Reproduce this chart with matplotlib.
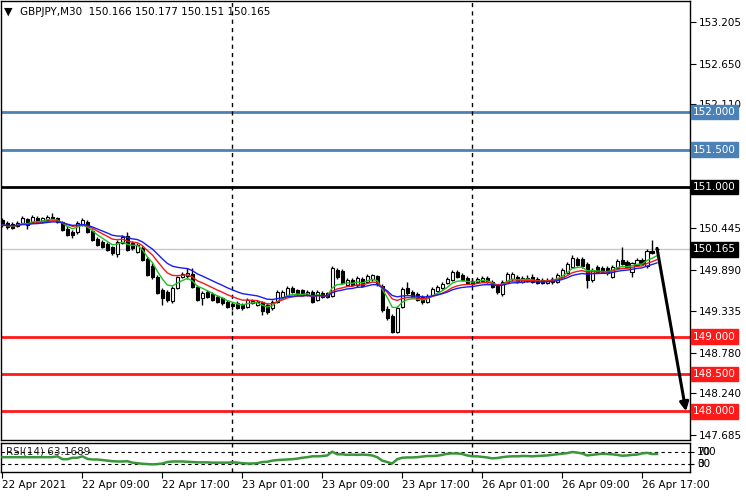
import matplotlib
matplotlib.use("Agg")
import matplotlib.pyplot as plt
import numpy as np
import pandas as pd
from matplotlib.transforms import blended_transform_factory, offset_copy

# ---------------- data ----------------
title_text = "GBPJPY,M30  150.166 150.177 150.151 150.165"

opens = [150.56,150.52,150.50,150.48,150.52,150.57,150.53,150.58,150.53,150.56,
         150.60,150.58,150.53,150.44,150.40,150.40,150.49,150.53,150.41,150.30,
         150.26,150.24,150.20,150.10,150.25,150.34,150.25,150.13,150.18,150.04,
         149.94,149.80,149.62,149.60,149.47,149.65,149.80,149.81,149.84,149.66,
         149.51,149.60,149.57,149.53,149.51,149.46,149.43,149.45,149.42,149.39,
         149.45,149.42,149.46,149.42,149.38,149.46,149.53,149.55,149.65,149.62,
         149.62,149.57,149.60,149.49,149.58,149.58,149.54,149.89,149.88,149.69,
         149.76,149.69,149.77,149.73,149.77,149.81,149.68,149.37,149.27,149.06,
         149.39,149.65,149.60,149.57,149.53,149.46,149.55,149.61,149.65,149.72,
         149.76,149.86,149.82,149.78,149.74,149.73,149.74,149.78,149.73,149.68,
         149.57,149.73,149.77,149.80,149.73,149.74,149.80,149.77,149.76,149.72,
         149.73,149.73,149.80,149.85,149.93,150.04,150.04,149.97,149.76,149.93,
         149.92,149.92,149.80,149.92,150.02,150.00,149.86,149.96,150.02,149.94,
         150.14,150.166]

closes = [150.49,150.46,150.45,150.52,150.58,150.49,150.60,150.53,150.58,150.60,
          150.58,150.53,150.42,150.36,150.36,150.52,150.56,150.40,150.29,150.22,
          150.20,150.16,150.12,150.26,150.33,150.16,150.18,150.22,150.02,149.82,
          149.80,149.58,149.51,149.49,149.65,149.80,149.84,149.85,149.66,149.49,
          149.58,149.53,149.49,149.46,149.45,149.39,149.41,149.38,149.38,149.49,
          149.47,149.46,149.34,149.33,149.46,149.60,149.60,149.65,149.60,149.58,
          149.55,149.60,149.46,149.60,149.53,149.53,149.92,149.80,149.72,149.76,
          149.69,149.78,149.68,149.81,149.82,149.70,149.35,149.25,149.06,149.38,
          149.64,149.58,149.53,149.49,149.46,149.54,149.64,149.66,149.70,149.77,
          149.86,149.80,149.76,149.72,149.70,149.77,149.78,149.73,149.66,149.60,
          149.73,149.84,149.84,149.73,149.78,149.78,149.73,149.72,149.72,149.76,
          149.77,149.82,149.89,149.97,150.05,149.96,149.94,149.76,149.89,149.86,
          149.86,149.85,149.93,150.01,149.97,149.93,149.98,150.02,149.97,150.14,
          150.12,150.165]

highs = [150.58,150.54,150.53,150.54,150.61,150.58,150.62,150.61,150.60,150.62,
         150.65,150.60,150.54,150.48,150.42,150.54,150.58,150.56,150.44,150.33,
         150.29,150.26,150.21,150.29,150.36,150.40,150.28,150.25,150.21,150.06,
         149.98,149.82,149.65,149.62,149.68,149.81,149.86,149.92,149.92,149.69,
         149.61,149.62,149.60,149.55,149.53,149.49,149.46,149.47,149.45,149.51,
         149.50,149.49,149.47,149.45,149.49,149.62,149.62,149.68,149.68,149.64,
         149.64,149.62,149.62,149.62,149.61,149.60,149.94,149.92,149.90,149.78,
         149.78,149.81,149.80,149.84,149.84,149.82,149.70,149.41,149.30,149.41,
         149.66,149.73,149.62,149.60,149.55,149.57,149.66,149.69,149.73,149.80,
         149.89,149.89,149.85,149.81,149.77,149.80,149.81,149.81,149.76,149.70,
         149.76,149.86,149.86,149.82,149.81,149.82,149.84,149.80,149.78,149.78,
         149.80,149.85,149.92,150.00,150.09,150.06,150.06,150.00,149.92,149.96,
         149.94,149.94,149.96,150.04,150.20,150.02,150.00,150.05,150.05,150.17,
         150.29,150.177]

lows = [150.46,150.44,150.44,150.46,150.50,150.44,150.52,150.52,150.52,150.54,
        150.56,150.52,150.41,150.34,150.32,150.37,150.48,150.38,150.28,150.21,
        150.18,150.14,150.09,150.06,150.24,150.14,150.16,150.12,150.01,149.81,
        149.77,149.57,149.42,149.46,149.45,149.64,149.78,149.77,149.65,149.47,
        149.42,149.51,149.47,149.45,149.42,149.38,149.35,149.37,149.35,149.38,
        149.43,149.41,149.29,149.30,149.35,149.45,149.51,149.54,149.58,149.55,
        149.54,149.54,149.45,149.47,149.51,149.51,149.53,149.77,149.70,149.68,
        149.68,149.66,149.66,149.72,149.74,149.68,149.33,149.22,149.05,149.05,
        149.38,149.55,149.51,149.47,149.43,149.45,149.54,149.60,149.64,149.70,
        149.74,149.78,149.74,149.70,149.68,149.72,149.73,149.72,149.65,149.57,
        149.54,149.72,149.74,149.72,149.72,149.73,149.72,149.70,149.70,149.70,
        149.70,149.72,149.78,149.84,149.92,149.94,149.92,149.65,149.73,149.85,
        149.85,149.82,149.78,149.90,149.96,149.92,149.80,149.94,149.96,149.92,
        150.10,150.151]

rsi_values = [52,52,52,52,52,52,52,52,52,52,
              52,55,45,45,50,50,55,46,44,44,
              42,40,38,37,37,38,33,31,29,28,
              27,28,30,35,37,37,37,36,35,34,
              34,34,33,33,33,33,34,33,31,30,
              30,31,35,36,40,42,43,44,45,47,
              50,52,55,55,56,58,71,62,62,60,
              61,60,61,60,58,52,40,35,30,45,
              50,51,51,52,54,56,56,57,60,64,
              65,65,63,58,55,55,53,51,48,49,
              52,54,55,55,56,56,55,56,57,58,
              60,62,64,66,70,68,65,58,60,62,
              64,63,62,60,57,58,60,61,65,67,
              63,63.17]
rsi_label = "RSI(14) 63.1689"
rsi_levels = [70, 30]

time_labels = ["22 Apr 2021", "22 Apr 09:00", "22 Apr 17:00", "23 Apr 01:00",
               "23 Apr 09:00", "23 Apr 17:00", "26 Apr 01:00", "26 Apr 09:00",
               "26 Apr 17:00"]
time_label_bars = [0, 16, 32, 48, 64, 80, 96, 112, 128]
day_separator_bars = [46, 94]

price_ticks = [153.205, 152.650, 152.110, 150.445, 149.890, 149.335,
               148.780, 148.240, 147.685]
blue_levels = [152.000, 151.500]
black_levels = [151.000]
red_levels = [149.000, 148.500, 148.000]
current_price = 150.165

ma_spans = {"fast": 6, "mid": 11, "slow": 17}

arrow_start = (131.0, 150.18)
arrow_end = (136.8, 148.00)

# ---------------- figure ----------------
W, H = 746, 496
fig = plt.figure(figsize=(W / 100, H / 100), dpi=100)
fig.patch.set_facecolor("white")
plt.rcParams["font.family"] = ["DejaVu Sans"]
FS = 7.5


def fx(px):
    return px / W


def fy(py):
    return 1 - py / H


ax = fig.add_axes([fx(0.5), fy(440), fx(690) - fx(0.5), fy(1) - fy(440)])
rax = fig.add_axes([fx(0.5), fy(472), fx(690) - fx(0.5), fy(443) - fy(472)])

xlim = (-0.4, 137.6)
for a in (ax, rax):
    a.set_xlim(*xlim)
    a.set_facecolor("white")
    for s in a.spines.values():
        s.set_color("black")
        s.set_linewidth(1.0)

ax.set_ylim(147.617, 153.486)
rax.set_ylim(0.44, 101.3)

O = np.array(opens)
C = np.array(closes)
Hh = np.array(highs)
L = np.array(lows)
idx = np.arange(len(C))

# horizontal levels
for lv in blue_levels:
    ax.axhline(lv, color="#4a82b8", lw=2, zorder=2)
for lv in black_levels:
    ax.axhline(lv, color="black", lw=2, zorder=2)
for lv in red_levels:
    ax.axhline(lv, color="#ff1a1a", lw=2, zorder=2)
ax.axhline(current_price, color="#c8c8c8", lw=1, zorder=1.5)

# day separators
for b in day_separator_bars:
    ax.axvline(b, color="black", lw=1, ls=(0, (3, 3)), zorder=2.2)
    rax.axvline(b, color="black", lw=1, ls=(0, (3, 3)), zorder=2.2)

# candles
ax.vlines(idx, L, Hh, color="black", lw=1, zorder=3)
bull = C >= O
body_bottom = np.minimum(O, C)
body_h = np.abs(C - O)
ax.bar(idx, body_h, bottom=body_bottom, width=0.62,
       color=np.where(bull, "white", "black"), edgecolor="black",
       linewidth=0.8, zorder=4)

# moving averages
cs = pd.Series(C)
ma_colors = {"fast": "#1fbf1f", "mid": "#ee1c1c", "slow": "#1c1cee"}
for k, span in ma_spans.items():
    ma = cs.ewm(span=span, adjust=False).mean()
    ax.plot(idx, ma, color=ma_colors[k], lw=1, zorder=5)

# arrow
ax.annotate("", xy=arrow_end, xytext=arrow_start,
            arrowprops=dict(arrowstyle="-|>", color="black", lw=2.2,
                            mutation_scale=13, shrinkA=0, shrinkB=0),
            zorder=6)

# right price scale
ax.yaxis.tick_right()
ax.set_yticks(price_ticks)
ax.set_yticklabels([f"{t:.3f}" for t in price_ticks])
ax.tick_params(axis="y", direction="out", length=4, width=0.8, pad=2,
               labelsize=FS, colors="black")
ax.tick_params(axis="x", bottom=False, labelbottom=False)

tr = blended_transform_factory(ax.transAxes, ax.transData)
tr = offset_copy(tr, fig=fig, x=3.0, y=0, units="dots")


def level_label(val, fc):
    ax.text(1.0, val, f"{val:.3f}", transform=tr, ha="left", va="center",
            color="white", fontsize=FS, clip_on=False, zorder=10,
            bbox=dict(boxstyle="square,pad=0.22", fc=fc, ec=fc))


for lv in blue_levels:
    level_label(lv, "#4a82b8")
for lv in black_levels:
    level_label(lv, "black")
for lv in red_levels:
    level_label(lv, "#ff1a1a")
level_label(current_price, "black")

# title
fig.text(fx(4), fy(12), "\u25BC", fontsize=8, ha="left", va="center", color="black")
fig.text(fx(20), fy(12), title_text, fontsize=FS, ha="left", va="center", color="black")

# RSI panel
rax.plot(idx, rsi_values, color="#3a963a", lw=1.8, zorder=4)
for lv in rsi_levels:
    rax.axhline(lv, color="black", lw=0.8, ls=(0, (3, 3)), zorder=3)
rax.text(fx(5) / (fx(690) - fx(0.5)), 70, rsi_label,
         transform=blended_transform_factory(rax.transAxes, rax.transData),
         ha="left", va="center", fontsize=FS, color="#222222", zorder=2)
rax.yaxis.tick_right()
rax.set_yticks(rsi_levels)
rax.set_yticklabels(["", ""])
rax.tick_params(axis="y", direction="out", length=3, width=0.8)
rtr = offset_copy(blended_transform_factory(rax.transAxes, rax.transData),
                  fig=fig, x=7.0, y=0, units="dots")
for val, txts in ((70, ["100", "70"]), (30, ["30", "0"])):
    for t in txts:
        rax.text(1.0, val, t, transform=rtr, ha="left", va="center",
                 fontsize=FS, color="black", clip_on=False)

rax.set_xticks(time_label_bars)
rax.set_xticklabels(time_labels)
rax.tick_params(axis="x", direction="out", length=4, width=0.8, pad=2,
                labelsize=FS, colors="black")
for lbl in rax.get_xticklabels():
    lbl.set_horizontalalignment("left")

fig.savefig("out.png", dpi=100, facecolor="white")
